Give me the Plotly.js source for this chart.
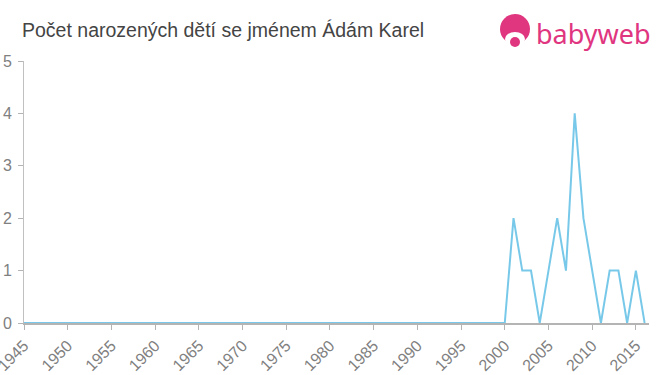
<!DOCTYPE html>
<html><head><meta charset="utf-8">
<script src="https://cdn.plot.ly/plotly-3.0.1.min.js"></script>
<style>body{margin:0;background:#fff}#c{width:660px;height:375px}</style>
</head><body><div id="c"></div>
<script>
const years = [1945,1946,1947,1948,1949,1950,1951,1952,1953,1954,1955,1956,1957,1958,1959,1960,1961,1962,1963,1964,1965,1966,1967,1968,1969,1970,1971,1972,1973,1974,1975,1976,1977,1978,1979,1980,1981,1982,1983,1984,1985,1986,1987,1988,1989,1990,1991,1992,1993,1994,1995,1996,1997,1998,1999,2000,2001,2002,2003,2004,2005,2006,2007,2008,2009,2010,2011,2012,2013,2014,2015,2016];
const counts = [0,0,0,0,0,0,0,0,0,0,0,0,0,0,0,0,0,0,0,0,0,0,0,0,0,0,0,0,0,0,0,0,0,0,0,0,0,0,0,0,0,0,0,0,0,0,0,0,0,0,0,0,0,0,0,0,2,1,1,0,1,2,1,4,2,1,0,1,1,0,1,0];
const xTicks = [1945,1950,1955,1960,1965,1970,1975,1980,1985,1990,1995,2000,2005,2010,2015];
const yTicks = [0,1,2,3,4,5];
const titleText = 'Počet narozených dětí se jménem Ádám Karel';
const brand = 'babyweb';

const pink = '#e0357f';
function py(y){return 1-(y-61)/(323-61);}
Plotly.newPlot('c', [{
  x: years, y: counts, type: 'scatter', mode: 'lines',
  line: {color: '#78c9e9', width: 2}, hoverinfo: 'skip'
}], {
  width: 660, height: 375,
  margin: {l: 24, r: 11, t: 61, b: 52},
  paper_bgcolor: '#fff', plot_bgcolor: '#fff',
  showlegend: false,
  font: {family: 'Liberation Sans, Arial, sans-serif'},
  title: {text: titleText, x: 22/660, xanchor: 'left', y: 1-30/375, yanchor: 'middle',
          font: {size: 19.5, color: '#444'}},
  xaxis: {range: [1945, 2016.5], tickvals: xTicks, ticktext: xTicks.map(String),
          tickangle: -45, ticks: 'outside', ticklen: 5, tickcolor: '#b4b4b4',
          ticklabeloverflow: 'allow',
          showgrid: false, zeroline: false, showline: true, linecolor: '#b4b4b4', linewidth: 2,
          tickfont: {size: 16, color: '#808080'}},
  yaxis: {range: [0, 5], tickvals: yTicks, ticks: 'outside', ticklen: 5, tickcolor: '#b4b4b4',
          ticklabelstandoff: 3,
          showgrid: false, zeroline: false, showline: true, linecolor: '#c0c0c0', linewidth: 1,
          tickfont: {size: 16, color: '#808080'}},
  shapes: [
    {type: 'circle', xref: 'paper', yref: 'paper', xsizemode: 'pixel', ysizemode: 'pixel',
     xanchor: (515-24)/625, yanchor: py(29), x0: -15, x1: 15, y0: -15, y1: 15,
     fillcolor: pink, line: {width: 0}},
    {type: 'circle', xref: 'paper', yref: 'paper', xsizemode: 'pixel', ysizemode: 'pixel',
     xanchor: (515-24)/625, yanchor: py(39), x0: -10, x1: 10, y0: -7, y1: 7,
     fillcolor: '#fff', line: {width: 0}},
    {type: 'circle', xref: 'paper', yref: 'paper', xsizemode: 'pixel', ysizemode: 'pixel',
     xanchor: (515-24)/625, yanchor: py(42), x0: -5, x1: 5, y0: -5, y1: 5,
     fillcolor: pink, line: {width: 0}}
  ],
  annotations: [{
    text: brand, xref: 'paper', yref: 'paper', x: (653-24)/625, y: py(33), xanchor: 'right', yanchor: 'middle',
    showarrow: false, font: {size: 27, color: pink, family: 'Noto Sans, sans-serif'}
  }]
}, {displayModeBar: false, staticPlot: true});
</script></body></html>
